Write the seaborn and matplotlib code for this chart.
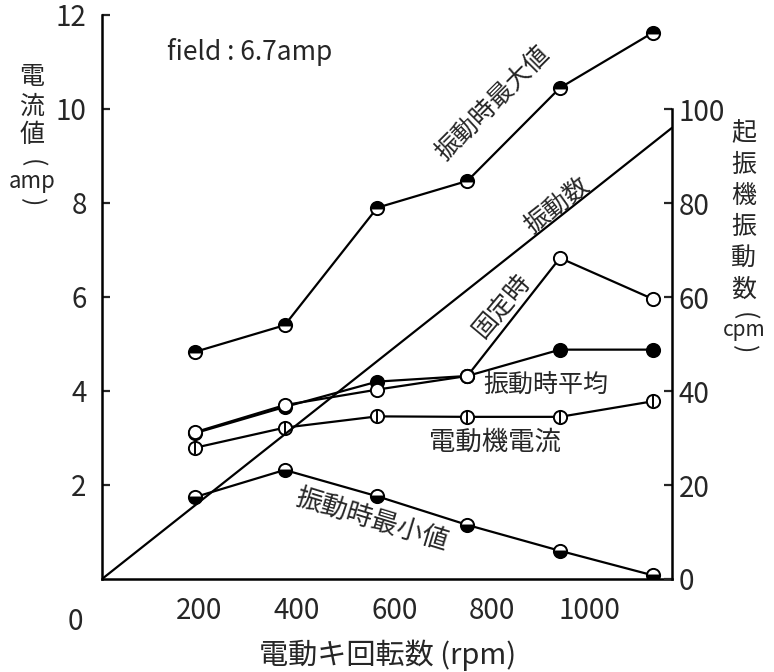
import matplotlib
matplotlib.use('Agg')
import matplotlib.pyplot as plt
import seaborn as sns
import pandas as pd

# motor speed (rpm) at each measuring point
rpm = [190, 375, 565, 750, 940, 1130]

# current (amp)
amp_max = [4.83, 5.40, 7.90, 8.47, 10.45, 11.62]     # 振動時最大値
amp_fixed = [3.12, 3.70, 4.03, 4.32, 6.83, 5.96]     # 固定時
amp_mean = [3.10, 3.66, 4.20, 4.32, 4.88, 4.88]      # 振動時平均
amp_motor = [2.79, 3.22, 3.46, 3.45, 3.45, 3.78]     # 電動機電流
amp_min = [1.74, 2.32, 1.76, 1.15, 0.60, 0.08]       # 振動時最小値

# vibration count of exciter (cpm)
vib_rpm = [0, 1170]
vib_cpm = [0, 96]

sns.set_style('white')
plt.rcParams['font.family'] = ['Noto Sans CJK JP', 'DejaVu Sans']
plt.rcParams['axes.unicode_minus'] = False

W, H = 774, 672
fig = plt.figure(figsize=(W / 100, H / 100), dpi=100)
ax = fig.add_axes([102 / W, 1 - 579 / H, 570 / W, 564 / H])
ax2 = ax.twinx()

df = pd.DataFrame({'rpm': rpm, 'max': amp_max, 'fixed': amp_fixed,
                   'mean': amp_mean, 'motor': amp_motor, 'min': amp_min})

kw = dict(color='black', linewidth=1.6, markersize=9.5, markeredgewidth=1.4,
          markeredgecolor='black', ax=ax)
sns.lineplot(x='rpm', y='max', data=df, marker='o', fillstyle='top',
             markerfacecoloralt='white', **kw)
sns.lineplot(x='rpm', y='mean', data=df, marker='o', markerfacecolor='black', **kw)
sns.lineplot(x='rpm', y='fixed', data=df.iloc[:4], marker='o', markerfacecolor='white', **kw)
sns.lineplot(x='rpm', y='fixed', data=df.iloc[3:], marker='o', markerfacecolor='white', **kw)
sns.lineplot(x='rpm', y='motor', data=df, marker='o', markerfacecolor='white', **kw)
sns.scatterplot(x='rpm', y='motor', data=df, marker='|', s=70, color='black',
                linewidth=1.4, ax=ax, zorder=5)
sns.lineplot(x='rpm', y='min', data=df, marker='o', fillstyle='bottom',
             markerfacecoloralt='white', **kw)

sns.lineplot(x=vib_rpm, y=vib_cpm, color='black', linewidth=1.6, ax=ax2)

ax.set_xlim(0, 1170)
ax.set_ylim(0, 12)
ax2.set_ylim(0, 120)

ax.set_xticks([200, 400, 600, 800, 1000])
ax.set_yticks([2, 4, 6, 8, 10, 12])
ax2.set_yticks([0, 20, 40, 60, 80, 100])
ax.tick_params(axis='x', length=0, labelsize=20, pad=12)
ax.tick_params(axis='y', direction='in', length=6, width=1.6, labelsize=20, pad=11)
ax2.tick_params(axis='y', direction='in', length=6, width=1.6, labelsize=20, pad=5)
ax.set_xlabel('')
ax.set_ylabel('')
ax2.set_ylabel('')

for a in (ax, ax2):
    a.spines['top'].set_visible(False)
    for s in a.spines.values():
        s.set_linewidth(1.8)
        s.set_color('black')
ax.spines['right'].set_visible(False)
ax2.spines['left'].set_visible(False)
ax2.spines['bottom'].set_visible(False)
ax2.spines['right'].set_bounds(0, 100)


def px_text(x, y, s, rot=0, size=18, **k):
    fig.text(x / W, 1 - y / H, s, rotation=rot, fontsize=size,
             ha='center', va='center', rotation_mode='anchor', **k)


px_text(75, 622, '0', size=20)
px_text(250, 52, 'field : 6.7amp', size=19)
px_text(493, 103, '振動時最大値', rot=45)
px_text(557, 206, '振動数', rot=38)
px_text(502, 305, '固定時', rot=50)
px_text(546, 385, '振動時平均')
px_text(495, 442, '電動機電流', size=19)
px_text(372, 520, '振動時最小値', rot=-17, size=19)
px_text(388, 655, '電動キ回転数 (rpm)', size=21)

# vertical axis titles, one glyph at a time
for ch, y in zip('電流値', [77, 107, 135]):
    px_text(32, y, ch, size=18)
px_text(32, 163, '(', rot=-90, size=18)
px_text(32, 182, 'amp', size=16)
px_text(32, 202, ')', rot=-90, size=18)

for ch, y in zip('起振機振動数', [133, 165, 196, 227, 258, 290]):
    px_text(744, y, ch, size=18)
px_text(744, 316, '(', rot=-90, size=18)
px_text(744, 330, 'cpm', size=15)
px_text(744, 349, ')', rot=-90, size=18)

plt.savefig('out.png', dpi=100)
